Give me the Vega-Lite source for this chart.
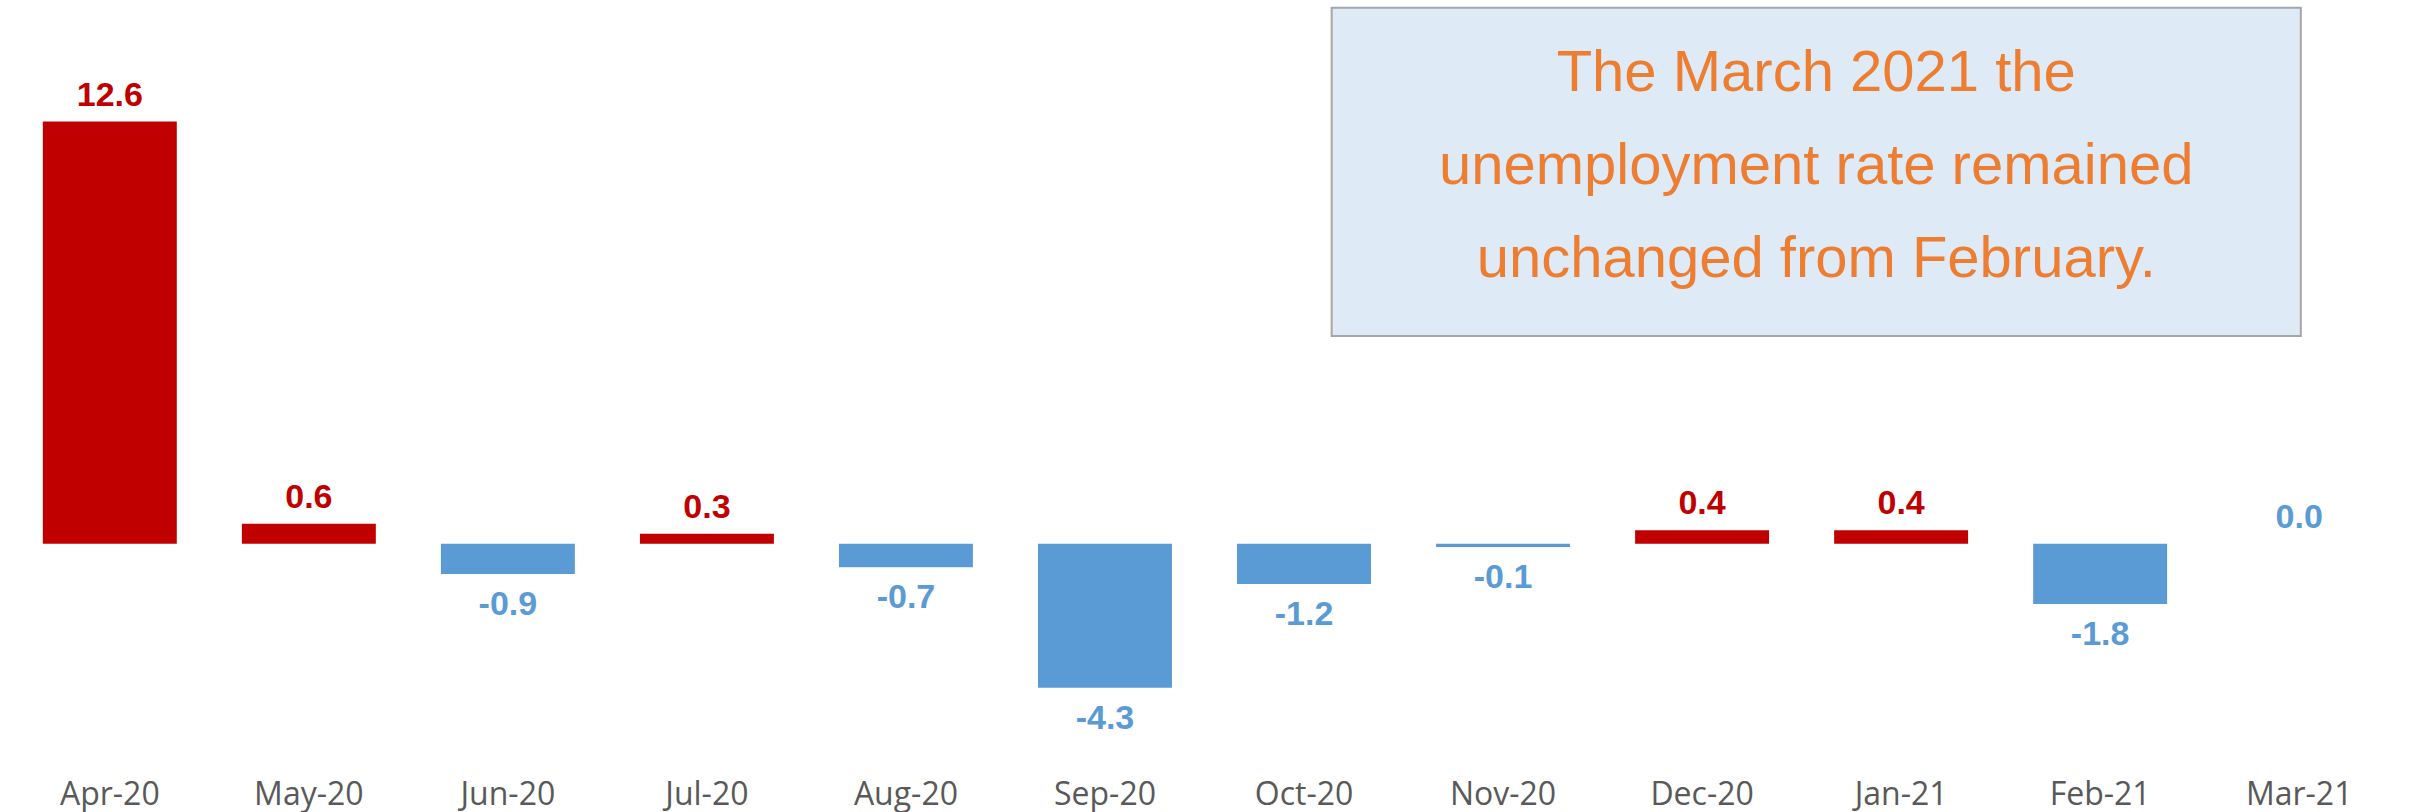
{
  "$schema": "https://vega.github.io/schema/vega-lite/v6.json",
  "autosize": {"type": "none"},
  "padding": {"left": 9, "top": 0, "right": 15, "bottom": 85},
  "width": 2391,
  "height": 727,
  "background": "white",
  "config": {
    "view": {"stroke": null},
    "locale": {"number": {"decimal": ".", "thousands": ",", "grouping": [3], "currency": ["$", ""], "minus": "-"}}
  },
  "datasets": {
    "months": [
      {"month": "Apr-20", "value": 12.6},
      {"month": "May-20", "value": 0.6},
      {"month": "Jun-20", "value": -0.9},
      {"month": "Jul-20", "value": 0.3},
      {"month": "Aug-20", "value": -0.7},
      {"month": "Sep-20", "value": -4.3},
      {"month": "Oct-20", "value": -1.2},
      {"month": "Nov-20", "value": -0.1},
      {"month": "Dec-20", "value": 0.4},
      {"month": "Jan-21", "value": 0.4},
      {"month": "Feb-21", "value": -1.8},
      {"month": "Mar-21", "value": 0.0}
    ],
    "note": [
      {"x0": 6.14, "x1": 11.01, "y0": 6.2, "y1": 16.0, "xc": 8.575, "yc": 13.51,
       "label": "The March 2021 the\nunemployment rate remained\nunchanged from February."}
    ]
  },
  "encoding": {
    "y": {"type": "quantitative", "scale": {"domain": [-5.47, 16.23], "nice": false, "zero": false}, "axis": null}
  },
  "layer": [
    {
      "data": {"name": "months"},
      "encoding": {
        "x": {
          "field": "month", "type": "nominal", "sort": null,
          "scale": {"paddingInner": 0.327, "paddingOuter": 0.17},
          "axis": {"title": null, "domain": false, "ticks": false, "labelAngle": 0,
                   "labelFont": "Open Sans", "labelFontSize": 32, "labelColor": "#595959",
                   "labelPadding": 52}
        }
      },
      "layer": [
        {
          "mark": {"type": "bar"},
          "encoding": {
            "y": {"field": "value", "type": "quantitative"},
            "color": {"condition": {"test": "datum.value > 0", "value": "#C00000"}, "value": "#5B9BD5"}
          }
        },
        {
          "transform": [{"filter": "datum.value >= 0"}],
          "mark": {"type": "text", "baseline": "alphabetic", "dy": -16, "font": "Liberation Sans", "fontWeight": "bold", "fontSize": 34},
          "encoding": {
            "y": {"field": "value", "type": "quantitative"},
            "text": {"field": "value", "type": "quantitative", "format": ".1f"},
            "color": {"condition": {"test": "datum.value > 0", "value": "#C00000"}, "value": "#5B9BD5"}
          }
        },
        {
          "transform": [{"filter": "datum.value < 0"}],
          "mark": {"type": "text", "baseline": "alphabetic", "dy": 41, "font": "Liberation Sans", "fontWeight": "bold", "fontSize": 34, "color": "#5B9BD5"},
          "encoding": {
            "y": {"field": "value", "type": "quantitative"},
            "text": {"field": "value", "type": "quantitative", "format": ".1f"}
          }
        },
        {
          "mark": {"type": "rule", "color": "#D9D9D9", "strokeWidth": 2.5},
          "encoding": {"y": {"datum": 0}}
        }
      ]
    },
    {
      "data": {"name": "note"},
      "encoding": {
        "x": {"type": "quantitative", "scale": {"domain": [-0.5065, 11.5085], "nice": false, "zero": false}, "axis": null}
      },
      "layer": [
        {
          "mark": {"type": "rect", "fill": "#DEEBF7", "stroke": "#A6A6A6", "strokeWidth": 2},
          "encoding": {
            "x": {"field": "x0"},
            "x2": {"field": "x1"},
            "y": {"field": "y0"},
            "y2": {"field": "y1"}
          }
        },
        {
          "mark": {"type": "text", "align": "center", "baseline": "alphabetic", "lineBreak": "\n", "lineHeight": 93,
                   "font": "Liberation Sans", "fontSize": 58, "color": "#ED7D31"},
          "encoding": {
            "x": {"field": "xc"},
            "y": {"field": "yc"},
            "text": {"field": "label"}
          }
        }
      ]
    }
  ],
  "resolve": {"scale": {"x": "independent"}}
}
